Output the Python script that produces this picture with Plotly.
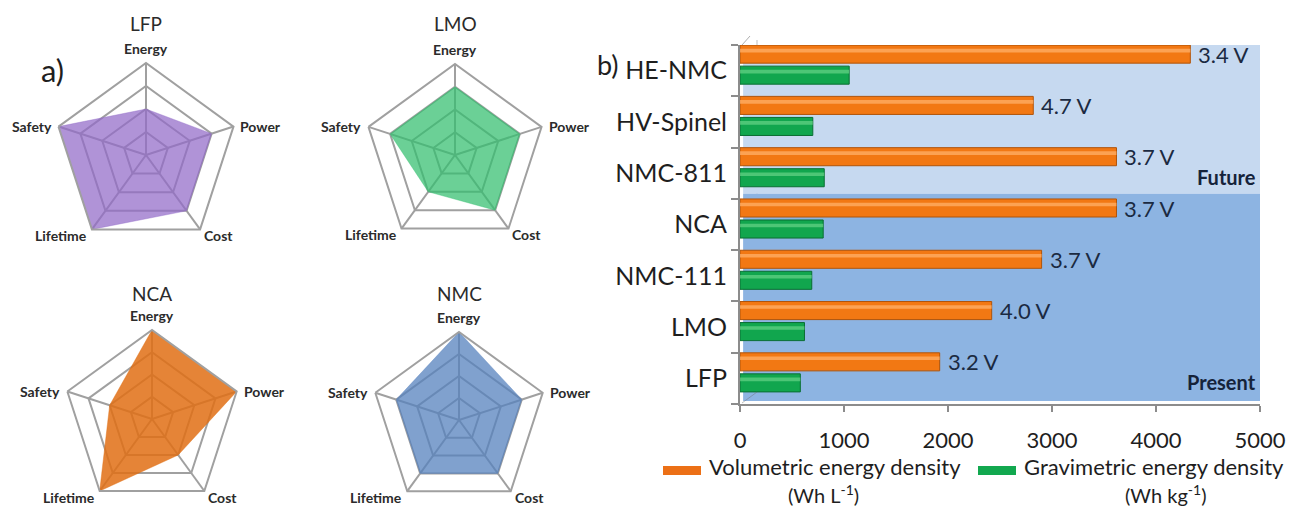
import math
import plotly.graph_objects as go

W, H = 1291, 508

# ---- panel b data: cathode energy densities ----
cathodes = ["LFP", "LMO", "NMC-111", "NCA", "NMC-811", "HV-Spinel", "HE-NMC"]
volumetric = [1920, 2420, 2900, 3620, 3620, 2820, 4330]   # Wh L-1
gravimetric = [580, 620, 690, 800, 810, 700, 1050]        # Wh kg-1
voltages = ["3.2 V", "4.0 V", "3.7 V", "3.7 V", "3.7 V", "4.7 V", "3.4 V"]
x_ticks = [0, 1000, 2000, 3000, 4000, 5000]

# ---- panel a data: radar scores (1-4) ----
radar_axes = ["Energy", "Power", "Cost", "Lifetime", "Safety"]
lfp_scores = [2, 3, 3, 4, 4]
lmo_scores = [3, 3, 3, 2, 3]
nca_scores = [4, 4, 2, 4, 2]
nmc_scores = [4, 3, 3, 3, 3]

FONT = "Lato"
TXT = "#1e1e1e"
GRID = "#a0a0a0"


def px(x):
    return x / W


def py(y):
    return 1 - y / H


def note(x, y, text, size, xanchor="center", yanchor="middle", color=TXT, **kw):
    """Paper-anchored text placed in pixel coordinates."""
    return dict(x=px(x), y=py(y), xref="paper", yref="paper", text=text,
                xanchor=xanchor, yanchor=yanchor, showarrow=False,
                font=dict(family=FONT, size=size, color=color), **kw)


fig = go.Figure()

# ---- radar charts: (title, scores, fill, centre x, centre y, radius, title y, subplot) ----
radars = [
    ("LFP", lfp_scores, "rgba(145,105,200,0.72)", 146, 155, 92, 23, "polar"),
    ("LMO", lmo_scores, "rgba(50,190,110,0.72)", 455, 155, 91, 23, "polar2"),
    ("NCA", nca_scores, "rgba(225,110,20,0.85)", 152, 419, 89, 293, "polar3"),
    ("NMC", nmc_scores, "rgba(85,130,190,0.75)", 459, 420, 88, 293, "polar4"),
]

# label placement around each vertex: (dx, dy, xanchor)
label_offsets = {
    "Energy": (0, -15, "center"),
    "Power": (5, 0, "left"),
    "Cost": (2, 6, "left"),
    "Lifetime": (-3, 6, "right"),
    "Safety": (-5, 0, "right"),
}

annotations = []
layout_polars = {}
for name, scores, color, cx, cy, r, ty, key in radars:
    fig.add_trace(go.Scatterpolar(
        r=scores + scores[:1],
        theta=radar_axes + radar_axes[:1],
        fill="toself",
        fillcolor=color,
        line=dict(color=color, width=0.5),
        mode="lines",
        subplot=key,
        showlegend=False,
        hoverinfo="skip",
    ))
    layout_polars[key] = dict(
        domain=dict(x=[px(cx - r), px(cx + r)], y=[py(cy + r), py(cy - r)]),
        gridshape="linear",
        bgcolor="white",
        radialaxis=dict(range=[0, 4], tickvals=[1, 2, 3], showticklabels=False,
                        ticks="", showline=False, gridcolor=GRID, gridwidth=2),
        angularaxis=dict(rotation=90, direction="clockwise",
                         categoryorder="array", categoryarray=radar_axes,
                         showline=True, linecolor=GRID, linewidth=2,
                         gridcolor=GRID, gridwidth=2, ticks="", showticklabels=False),
    )
    annotations.append(note(cx, ty, name, 19, color="#2b2b2b"))
    for k, axis_name in enumerate(radar_axes):
        ang = math.radians(72 * k)
        vx = cx + r * math.sin(ang)
        vy = cy - r * math.cos(ang)
        dx, dy, anchor = label_offsets[axis_name]
        annotations.append(note(vx + dx, vy + dy, f"<b>{axis_name}</b>", 14,
                                xanchor=anchor, color="#2b2b2b"))

# ---- bar chart: base bars plus a lighter sheen band for a cylindrical look ----
bar_specs = [
    (volumetric, 0.146, "#f27813", "#b0540a", "rgba(255,176,105,0.75)"),
    (gravimetric, -0.264, "#11a64e", "#0a6e33", "rgba(110,215,140,0.65)"),
]
for values, off, fill, edge, sheen in bar_specs:
    fig.add_trace(go.Bar(
        y=cathodes, x=values, orientation="h",
        offset=off, width=0.352,
        marker=dict(color=fill, line=dict(color=edge, width=1)),
        showlegend=False, hoverinfo="skip",
    ))
    fig.add_trace(go.Bar(
        y=cathodes, x=values, orientation="h",
        offset=off + 0.21, width=0.07,
        marker=dict(color=sheen, line=dict(width=0)),
        showlegend=False, hoverinfo="skip",
    ))

for i, (v, lab) in enumerate(zip(volumetric, voltages)):
    annotations.append(dict(x=v, y=i + 0.32, xref="x", yref="y", text=lab,
                            xanchor="left", yanchor="middle", xshift=6, showarrow=False,
                            font=dict(family=FONT, size=22, color="#1b2a41")))

# band labels and panel letters
annotations += [
    note(1258, 177, "<b>Future</b>", 20, xanchor="right", color="#15233a"),
    note(1258, 382, "<b>Present</b>", 20, xanchor="right", color="#15233a"),
    note(608, 64, "b)", 27),
    note(52, 70, "a)", 31),
]

# legend (custom, two-line entries)
annotations += [
    note(707, 466, "Volumetric energy density", 22, xanchor="left"),
    note(823, 494, "(Wh L<sup>-1</sup>)", 20),
    note(1286, 466, "Gravimetric energy density", 22, xanchor="right"),
    note(1165, 494, "(Wh kg<sup>-1</sup>)", 20),
]

shapes = [
    # light "future" band and darker "present" band
    dict(type="rect", xref="x", yref="y", x0=30, x1=5020, y0=3.6, y1=6.56,
         fillcolor="#c6d9f0", line_width=0, layer="below"),
    dict(type="rect", xref="x", yref="y", x0=30, x1=5020, y0=-0.44, y1=3.6,
         fillcolor="#8db4e2", line_width=0, layer="below"),
    # depth lines of the back wall
    dict(type="line", xref="paper", yref="paper", x0=px(757), x1=px(757), y0=py(392), y1=py(40),
         line=dict(color="rgba(110,110,110,0.45)", width=1), layer="below"),
    dict(type="line", xref="paper", yref="paper", x0=px(742), x1=px(757), y0=py(403), y1=py(392),
         line=dict(color="rgba(110,110,110,0.45)", width=1)),
    dict(type="line", xref="paper", yref="paper", x0=px(742), x1=px(750), y0=py(45), y1=py(36),
         line=dict(color="rgba(140,140,140,0.7)", width=1)),
    # legend swatches
    dict(type="rect", xref="paper", yref="paper", x0=px(663), x1=px(701), y0=py(475), y1=py(466),
         fillcolor="#ec7016", line_width=0),
    dict(type="rect", xref="paper", yref="paper", x0=px(978), x1=px(1016), y0=py(475), y1=py(466),
         fillcolor="#12a84f", line_width=0),
]

fig.update_layout(
    width=W, height=H,
    margin=dict(l=0, r=0, t=0, b=0, autoexpand=False),
    paper_bgcolor="white",
    plot_bgcolor="rgba(0,0,0,0)",
    barmode="overlay",
    showlegend=False,
    annotations=annotations,
    shapes=shapes,
    xaxis=dict(domain=[px(740), px(1260)], range=[0, 5000], tickvals=x_ticks, automargin=False,
               showgrid=False, zeroline=False, showline=True, linecolor="#8c8c8c", linewidth=2,
               ticks="outside", ticklen=6, tickwidth=2, tickcolor="#8c8c8c",
               ticklabelstandoff=10,
               tickfont=dict(family=FONT, size=22, color=TXT)),
    yaxis=dict(domain=[py(404), py(45)], range=[-0.5, 6.5], automargin=False,
               categoryorder="array", categoryarray=cathodes, tickson="boundaries",
               showgrid=False, zeroline=False, showline=True, linecolor="#8c8c8c", linewidth=2,
               ticks="outside", ticklen=7, tickwidth=2, tickcolor="#8c8c8c",
               ticklabelstandoff=6,
               tickfont=dict(family=FONT, size=25, color=TXT)),
    **layout_polars,
)

fig.write_html("out.html")
